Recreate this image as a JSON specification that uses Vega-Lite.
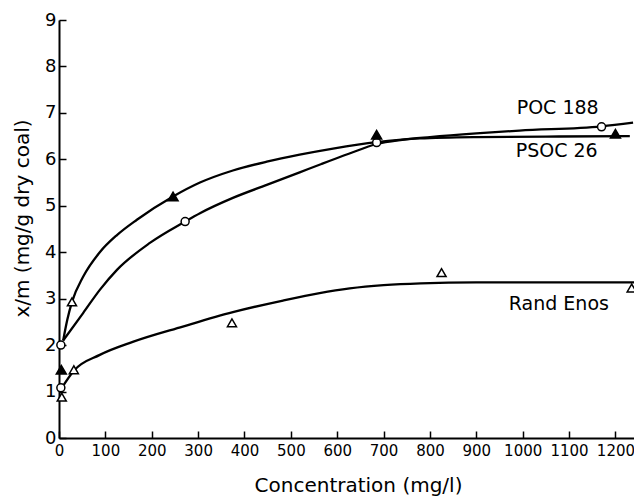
{
  "$schema": "https://vega.github.io/schema/vega-lite/v6.json",
  "width": 575,
  "height": 418,
  "autosize": {"type": "none"},
  "padding": {"left": 59, "top": 20, "right": 0, "bottom": 58},
  "background": "white",
  "config": {"view": {"stroke": null}, "axis": {"grid": false}},
  "datasets": {
    "curves": [
      {"series": "PSOC 26", "c": 9, "q": 2.1},
      {"series": "PSOC 26", "c": 18, "q": 2.55},
      {"series": "PSOC 26", "c": 28, "q": 2.93},
      {"series": "PSOC 26", "c": 52, "q": 3.47},
      {"series": "PSOC 26", "c": 88, "q": 4.0},
      {"series": "PSOC 26", "c": 125, "q": 4.37},
      {"series": "PSOC 26", "c": 168, "q": 4.7},
      {"series": "PSOC 26", "c": 246, "q": 5.2},
      {"series": "PSOC 26", "c": 304, "q": 5.5},
      {"series": "PSOC 26", "c": 375, "q": 5.76},
      {"series": "PSOC 26", "c": 448, "q": 5.95},
      {"series": "PSOC 26", "c": 519, "q": 6.1},
      {"series": "PSOC 26", "c": 591, "q": 6.23},
      {"series": "PSOC 26", "c": 685, "q": 6.37},
      {"series": "PSOC 26", "c": 778, "q": 6.45},
      {"series": "PSOC 26", "c": 900, "q": 6.48},
      {"series": "PSOC 26", "c": 1050, "q": 6.49},
      {"series": "PSOC 26", "c": 1231, "q": 6.5},
      {"series": "POC 188", "c": 9, "q": 2.1},
      {"series": "POC 188", "c": 52, "q": 2.69},
      {"series": "POC 188", "c": 88, "q": 3.19},
      {"series": "POC 188", "c": 125, "q": 3.62},
      {"series": "POC 188", "c": 196, "q": 4.2},
      {"series": "POC 188", "c": 272, "q": 4.66},
      {"series": "POC 188", "c": 304, "q": 4.84},
      {"series": "POC 188", "c": 375, "q": 5.17},
      {"series": "POC 188", "c": 448, "q": 5.45},
      {"series": "POC 188", "c": 519, "q": 5.72},
      {"series": "POC 188", "c": 566, "q": 5.9},
      {"series": "POC 188", "c": 625, "q": 6.12},
      {"series": "POC 188", "c": 685, "q": 6.33},
      {"series": "POC 188", "c": 740, "q": 6.42},
      {"series": "POC 188", "c": 800, "q": 6.48},
      {"series": "POC 188", "c": 900, "q": 6.56},
      {"series": "POC 188", "c": 993, "q": 6.62},
      {"series": "POC 188", "c": 1170, "q": 6.71},
      {"series": "POC 188", "c": 1238, "q": 6.79},
      {"series": "Rand Enos", "c": 6, "q": 1.08},
      {"series": "Rand Enos", "c": 32, "q": 1.45},
      {"series": "Rand Enos", "c": 88, "q": 1.79},
      {"series": "Rand Enos", "c": 159, "q": 2.07},
      {"series": "Rand Enos", "c": 267, "q": 2.4},
      {"series": "Rand Enos", "c": 375, "q": 2.71},
      {"series": "Rand Enos", "c": 483, "q": 2.96},
      {"series": "Rand Enos", "c": 562, "q": 3.12},
      {"series": "Rand Enos", "c": 627, "q": 3.22},
      {"series": "Rand Enos", "c": 700, "q": 3.29},
      {"series": "Rand Enos", "c": 780, "q": 3.33},
      {"series": "Rand Enos", "c": 900, "q": 3.35},
      {"series": "Rand Enos", "c": 1240, "q": 3.35}
    ],
    "points": [
      {"symbol": "open circle", "c": 4, "q": 2.0},
      {"symbol": "open circle", "c": 4, "q": 1.08},
      {"symbol": "open circle", "c": 272, "q": 4.66},
      {"symbol": "open circle", "c": 685, "q": 6.36},
      {"symbol": "open circle", "c": 1170, "q": 6.7},
      {"symbol": "filled triangle", "c": 5, "q": 1.47},
      {"symbol": "filled triangle", "c": 246, "q": 5.2},
      {"symbol": "filled triangle", "c": 685, "q": 6.53},
      {"symbol": "filled triangle", "c": 1200, "q": 6.55},
      {"symbol": "open triangle", "c": 6, "q": 0.88},
      {"symbol": "open triangle", "c": 28, "q": 2.93},
      {"symbol": "open triangle", "c": 32, "q": 1.47},
      {"symbol": "open triangle", "c": 373, "q": 2.48},
      {"symbol": "open triangle", "c": 825, "q": 3.56},
      {"symbol": "open triangle", "c": 1235, "q": 3.23}
    ],
    "labels": [
      {"label": "POC 188", "c": 987, "q": 7.11},
      {"label": "PSOC 26", "c": 985, "q": 6.17},
      {"label": "Rand Enos", "c": 970, "q": 2.88}
    ]
  },
  "layer": [
    {
      "data": {"name": "curves"},
      "mark": {"type": "line", "interpolate": "monotone", "color": "black", "strokeWidth": 2.3},
      "encoding": {
        "x": {
          "field": "c", "type": "quantitative",
          "scale": {"domain": [0, 1240], "nice": false, "zero": false},
          "axis": {
            "values": [0, 100, 200, 300, 400, 500, 600, 700, 800, 900, 1000, 1100, 1200],
            "format": "d",
            "tickSize": -7, "tickWidth": 1.5, "tickColor": "black",
            "domainColor": "black", "domainWidth": 2,
            "labelFont": "DejaVu Sans",
            "labelFontSize": 15, "labelColor": "black", "labelPadding": 12,
            "labelFlush": false, "labelOverlap": false,
            "title": "Concentration (mg/l)",
            "titleFont": "DejaVu Sans", "titleFontSize": 20, "titleFontWeight": "normal",
            "titleColor": "black", "titleX": 299, "titleY": 47, "titleBaseline": "middle", "titleAlign": "center"
          }
        },
        "y": {
          "field": "q", "type": "quantitative",
          "scale": {"domain": [0, 9], "nice": false},
          "axis": {
            "values": [0, 1, 2, 3, 4, 5, 6, 7, 8, 9],
            "tickSize": -7, "tickWidth": 1.5, "tickColor": "black",
            "domainColor": "black", "domainWidth": 2,
            "labelFont": "DejaVu Sans", "labelFontSize": 18, "labelColor": "black", "labelPadding": 10,
            "labelFlush": false, "labelOverlap": false,
            "title": "x/m (mg/g dry coal)",
            "titleFont": "DejaVu Sans", "titleFontSize": 20, "titleFontWeight": "normal",
            "titleColor": "black", "titleX": -37, "titleY": 198, "titleBaseline": "middle", "titleAlign": "center", "titleAngle": -90
          }
        },
        "detail": {"field": "series"}
      }
    },
    {
      "mark": {"type": "rule", "color": "black", "strokeWidth": 1.6},
      "encoding": {"y": {"datum": 9}}
    },
    {
      "data": {"name": "points"},
      "mark": {"type": "point", "filled": true, "stroke": "black", "strokeWidth": 1.5, "opacity": 1},
      "encoding": {
        "x": {"field": "c", "type": "quantitative"},
        "y": {"field": "q", "type": "quantitative"},
        "shape": {"field": "symbol", "scale": {"domain": ["open circle", "open triangle", "filled triangle"], "range": ["circle", "triangle-up", "triangle-up"]}, "legend": null},
        "fill": {"field": "symbol", "scale": {"domain": ["open circle", "open triangle", "filled triangle"], "range": ["white", "white", "black"]}, "legend": null},
        "size": {"field": "symbol", "type": "nominal", "scale": {"domain": ["open circle", "open triangle", "filled triangle"], "range": [64, 100, 100]}, "legend": null}
      }
    },
    {
      "data": {"name": "labels"},
      "mark": {"type": "text", "align": "left", "baseline": "middle", "font": "DejaVu Sans", "fontSize": 19, "color": "black"},
      "encoding": {
        "x": {"field": "c", "type": "quantitative"},
        "y": {"field": "q", "type": "quantitative"},
        "text": {"field": "label"}
      }
    }
  ]
}
